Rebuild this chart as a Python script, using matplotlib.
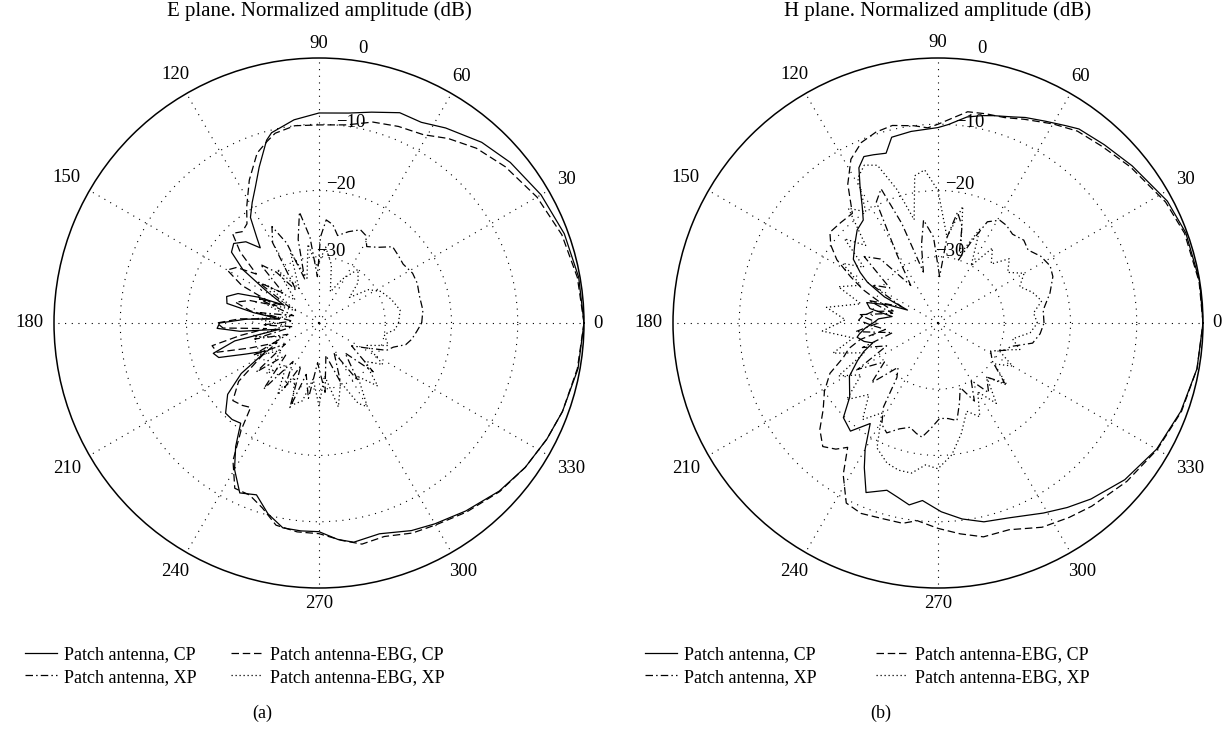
import numpy as np
import matplotlib.pyplot as plt
from matplotlib.lines import Line2D

plt.rcParams['font.family'] = ['Liberation Serif', 'DejaVu Serif']

# ---- E plane data (angle in deg, normalized amplitude in dB) ----
e_cp_patch_ang = [0, 10, 20, 30, 40, 48, 57, 63, 69, 76, 82, 90, 97, 104, 106, 111, 115, 119, 123, 126,
                  128, 132, 137, 141, 145, 149, 153, 157, 160, 164, 168, 171, 174, 177, 180, 183, 186, 189,
                  192, 196, 199, 203, 208, 213, 218, 224, 228, 232, 236, 240, 245, 250, 255, 260, 265, 270,
                  275, 279, 286, 294, 300, 308, 317, 325, 333, 340, 350, 360]
e_cp_patch = [0.0, -0.2, -0.6, -1.3, -2.3, -3.3, -4.9, -6.0, -6.0, -7.2, -8.0, -8.3, -9.1, -10.4, -11.3,
              -14.8, -17.3, -19.2, -21.0, -24.0, -25.6, -23.5, -22.4, -23.0, -26.0, -31.0, -34.0, -30.0,
              -27.0, -25.5, -25.8, -30.0, -34.0, -29.0, -25.0, -24.6, -28.0, -34.0, -27.0, -23.4, -24.0,
              -28.0, -31.0, -26.0, -22.5, -20.4, -20.4, -20.8, -17.5, -14.5, -11.7, -12.4, -10.2, -8.6,
              -8.5, -8.5, -7.2, -6.5, -6.9, -5.7, -5.0, -4.0, -2.8, -2.0, -1.4, -0.9, -0.3, 0.0]

e_cp_ebg_ang = [0, 10, 20, 30, 40, 48, 55, 61, 68, 75, 82, 90, 97, 103, 106, 110, 116, 122, 126, 130,
                134, 138, 142, 146, 150, 154, 158, 162, 166, 170, 174, 177, 180, 183, 186, 189, 192, 196,
                200, 205, 210, 216, 222, 227, 231, 234, 238, 243, 248, 253, 258, 264, 270, 276, 281, 287,
                294, 300, 308, 317, 325, 333, 340, 350, 360]
e_cp_ebg = [0.0, -0.4, -1.0, -2.0, -3.3, -4.5, -6.0, -7.5, -8.0, -8.6, -9.8, -10.1, -10.0, -10.6, -11.5,
            -12.7, -16.0, -19.4, -21.5, -22.0, -21.2, -24.0, -28.0, -25.0, -24.0, -27.0, -33.0, -29.0,
            -27.0, -29.5, -34.0, -28.0, -24.6, -25.5, -32.0, -28.0, -23.5, -24.0, -29.0, -33.0, -30.0,
            -25.0, -22.5, -23.0, -23.6, -20.0, -15.5, -12.0, -12.0, -10.8, -8.8, -8.3, -8.2, -7.0, -6.0,
            -6.3, -5.3, -4.8, -3.8, -2.7, -2.0, -1.4, -0.9, -0.4, 0.0]

e_xp_patch_ang = [0, 7, 15, 22, 28, 35, 40, 46, 52, 58, 62, 66, 72, 78, 82, 86, 89, 92, 96, 100, 104,
                  108, 112, 116, 120, 125, 130, 135, 140, 146, 152, 158, 164, 170, 176, 182, 188, 194, 200,
                  206, 212, 218, 224, 230, 236, 242, 247, 251, 256, 262, 268, 275, 282, 290, 297, 304, 311,
                  318, 325, 332, 338, 342, 346, 350, 355, 360]
e_xp_patch = [-24.5, -24.2, -24.3, -24.0, -24.0, -24.5, -24.3, -24.0, -25.5, -26.4, -25.0, -24.6, -25.5,
              -26.5, -25.0, -24.4, -27.0, -33.0, -27.0, -23.0, -27.0, -33.0, -27.0, -23.8, -26.0, -34.0,
              -30.0, -27.5, -33.0, -29.0, -35.0, -30.0, -36.0, -31.0, -36.0, -31.5, -36.0, -30.0, -35.0,
              -29.0, -34.0, -28.0, -33.0, -27.0, -33.0, -29.0, -33.0, -26.5, -32.0, -28.5, -34.0, -29.5,
              -35.0, -30.5, -35.0, -29.5, -34.0, -29.0, -34.0, -32.0, -29.0, -28.2, -26.5, -25.8, -25.2,
              -24.5]

e_xp_ebg_ang = [0, 9, 18, 27, 34, 40, 46, 54, 62, 70, 78, 85, 92, 98, 105, 112, 120, 128, 136, 144, 152,
                160, 168, 176, 184, 192, 200, 208, 216, 224, 232, 240, 246, 252, 258, 264, 270, 276, 283,
                290, 296, 300, 306, 313, 320, 327, 335, 342, 350, 355, 360]
e_xp_ebg = [-28.0, -27.6, -28.5, -29.5, -31.0, -34.0, -31.5, -30.0, -32.5, -35.0, -31.0, -28.5, -31.5,
            -28.0, -33.0, -28.5, -34.0, -30.0, -35.0, -30.5, -36.0, -31.0, -35.5, -30.5, -35.0, -30.0,
            -34.0, -29.5, -33.0, -29.0, -32.0, -27.5, -31.0, -27.0, -28.0, -31.5, -27.5, -32.0, -27.0,
            -30.5, -26.5, -25.4, -30.0, -27.0, -31.0, -28.5, -32.0, -29.0, -30.0, -28.5, -28.0]

# ---- H plane data ----
h_cp_patch_ang = [0, 9, 20, 28, 39, 47, 54, 57, 62, 67, 70, 75, 78, 82, 87, 90, 98, 104, 107, 111, 114,
                  117, 120, 123, 126, 131, 137, 143, 147, 150, 154, 157, 160, 164, 168, 172, 176, 180, 184,
                  188, 190, 194, 197, 201, 205, 211, 216, 220, 225, 231, 236, 240, 243, 247, 253, 257, 261,
                  265, 271, 277, 283, 290, 299, 305, 311, 320, 330, 340, 350, 360]
h_cp_patch = [0.0, 0.0, -0.2, -0.8, -2.3, -3.2, -3.8, -4.5, -5.5, -6.3, -6.9, -7.6, -8.0, -8.6, -10.0,
              -10.5, -10.8, -11.1, -13.2, -12.8, -12.5, -13.7, -16.5, -19.0, -20.8, -21.4, -22.8, -24.0,
              -26.0, -27.7, -31.0, -35.0, -32.0, -28.8, -29.5, -33.0, -31.0, -30.2, -29.0, -28.0, -27.6,
              -28.5, -29.7, -28.0, -26.6, -24.4, -23.5, -22.6, -19.8, -19.0, -21.7, -18.0, -15.5, -12.2,
              -13.6, -13.0, -12.2, -13.1, -11.5, -10.2, -9.2, -8.7, -7.2, -6.0, -4.8, -3.2, -1.9, -1.0,
              -0.3, 0.0]

h_cp_ebg_ang = [0, 9, 20, 28, 39, 47, 54, 60, 67, 72, 77, 82, 86, 90, 93, 97, 103, 108, 113, 118, 123,
                128, 134, 140, 144, 148, 152, 156, 160, 165, 170, 175, 178, 182, 187, 192, 196, 200, 205,
                211, 217, 222, 227, 231, 234, 238, 243, 248, 254, 260, 264, 270, 276, 282, 289, 297, 304,
                310, 320, 330, 340, 350, 360]
h_cp_ebg = [0.0, -0.1, -0.4, -1.1, -2.6, -3.6, -4.2, -5.3, -6.6, -7.4, -7.6, -7.8, -9.0, -10.0, -10.5,
            -10.0, -9.4, -9.7, -10.4, -12.0, -15.0, -19.0, -18.9, -18.7, -20.0, -22.0, -25.0, -27.6,
            -30.5, -33.0, -30.0, -28.5, -28.0, -30.0, -32.0, -28.0, -26.0, -24.8, -22.0, -20.0, -18.3,
            -16.0, -14.5, -15.5, -16.8, -13.0, -9.5, -9.0, -9.3, -9.3, -10.0, -9.0, -8.0, -7.0, -7.0,
            -5.4, -4.6, -3.9, -2.8, -1.8, -0.9, -0.3, 0.0]

h_xp_patch_ang = [0, 7, 15, 22, 27, 33, 39, 44, 50, 55, 59, 64, 68, 72, 76, 80, 84, 88, 93, 98, 102,
                  106, 110, 113, 117, 121, 126, 132, 138, 144, 150, 156, 162, 168, 174, 180, 186, 192, 198,
                  204, 210, 216, 222, 228, 233, 237, 241, 245, 250, 255, 259, 262, 266, 271, 276, 281, 285,
                  289, 295, 300, 306, 312, 318, 325, 332, 338, 342, 348, 354, 360]
h_xp_patch = [-24.0, -24.0, -22.5, -21.3, -21.0, -21.5, -22.5, -22.0, -22.5, -22.0, -21.9, -23.0, -27.0,
              -30.0, -25.0, -23.0, -27.0, -33.0, -27.0, -24.3, -28.0, -32.0, -24.0, -18.0, -19.5, -28.0,
              -33.0, -27.0, -25.0, -31.0, -28.5, -34.0, -29.0, -33.0, -28.0, -31.0, -27.5, -33.0, -28.0,
              -31.5, -26.0, -30.0, -26.5, -31.0, -29.7, -24.9, -22.5, -21.7, -23.0, -23.7, -23.0, -22.6,
              -24.0, -25.6, -25.5, -25.0, -27.5, -29.7, -27.0, -30.0, -27.0, -29.0, -26.5, -30.0, -31.0,
              -29.0, -28.5, -25.4, -24.5, -24.0]

h_xp_ebg_ang = [0, 6, 12, 18, 24, 30, 36, 42, 48, 54, 60, 66, 72, 78, 84, 90, 95, 99, 103, 107, 111, 115,
                119, 123, 128, 133, 138, 143, 148, 154, 160, 166, 172, 178, 184, 190, 196, 202, 208, 214,
                220, 226, 232, 238, 244, 250, 255, 260, 265, 270, 276, 282, 288, 294, 300, 306, 312, 318,
                324, 330, 336, 342, 348, 354, 360]
h_xp_ebg = [-25.0, -25.5, -24.0, -25.0, -26.5, -25.0, -27.0, -25.5, -28.0, -26.0, -30.0, -24.5, -29.0,
            -22.0, -27.0, -20.0, -16.8, -17.5, -24.0, -19.0, -14.5, -13.7, -15.0, -20.0, -18.0, -24.0,
            -21.0, -26.0, -23.0, -27.0, -24.0, -28.0, -23.0, -26.0, -22.5, -27.0, -23.5, -28.0, -23.0,
            -26.0, -22.0, -25.0, -21.5, -24.0, -19.0, -17.5, -17.0, -17.0, -18.5, -18.0, -20.0, -23.0,
            -26.0, -24.5, -28.0, -25.0, -29.0, -26.0, -29.5, -27.0, -30.0, -27.0, -28.5, -26.0, -25.0]

theta_ticks = list(range(0, 360, 30))
ring_values = [-30, -20, -10, 0]
ring_labels = ['\u221230', '\u221220', '\u221210', '0']

labels = ['Patch antenna, CP', 'Patch antenna, XP',
          'Patch antenna-EBG, CP', 'Patch antenna-EBG, XP']
styles = ['-', (0, (6, 2.5, 1.2, 2.5)), (0, (6, 3)), (0, (1, 2.2))]

W, H = 1231, 742
R = 265          # radius of the polar frame in pixels
PX2DB = 40 / R   # dB per pixel along the radius
fig = plt.figure(figsize=(W / 100, H / 100), dpi=100)


def panel(cx, title, tag, series, leg_x, colspace):
    cy = 323
    ax = fig.add_axes([(cx - R) / W, (H - cy - R) / H, 2 * R / W, 2 * R / H], projection='polar')
    for (ang, val), ls in zip(series, styles):
        ax.plot(np.deg2rad(ang), val, color='black', linestyle=ls, linewidth=0.9)
    ax.set_ylim(-40, 0)
    ax.set_rgrids(ring_values[:-1], labels=['', '', ''])
    ax.set_thetagrids(theta_ticks, labels=['' for t in theta_ticks])
    ax.grid(True, color='black', linestyle=(0, (1, 5)), linewidth=0.8)
    ax.spines['polar'].set_linewidth(1.1)

    # angle labels outside the frame
    for t in theta_ticks:
        th = np.deg2rad(t)
        half_w = len(str(t)) * 5.6
        gap = 8 + abs(np.cos(th)) * half_w + abs(np.sin(th)) * 7
        ax.text(th, gap * PX2DB, str(t), fontsize=13.5, ha='center', va='center', clip_on=False)

    # ring labels
    for v, s, off in zip(ring_values, ring_labels, [1.0, 1.1, 0.7, 2.0]):
        ax.text(np.deg2rad(81), v + off, s, fontsize=13.5, ha='center', va='center', clip_on=False)

    fig.text(cx / W, 1 - 11 / H, title, fontsize=15, ha='center', va='center')
    handles = [Line2D([], [], color='black', linestyle=ls, linewidth=0.9) for ls in styles]
    fig.legend(handles, labels, loc='upper left', bbox_to_anchor=(leg_x / W, 1 - 646 / H),
               ncol=2, frameon=False, fontsize=13, handlelength=1.75, handletextpad=0.4,
               columnspacing=colspace, labelspacing=0.32, borderpad=0, borderaxespad=0)
    fig.text((cx - 57) / W, 1 - 713 / H, tag, fontsize=13, ha='center', va='center')


panel(319, 'E plane. Normalized amplitude (dB)', '(a)',
      [(e_cp_patch_ang, e_cp_patch), (e_xp_patch_ang, e_xp_patch),
       (e_cp_ebg_ang, e_cp_ebg), (e_xp_ebg_ang, e_xp_ebg)], 25, 1.9)
panel(938, 'H plane. Normalized amplitude (dB)', '(b)',
      [(h_cp_patch_ang, h_cp_patch), (h_xp_patch_ang, h_xp_patch),
       (h_cp_ebg_ang, h_cp_ebg), (h_xp_ebg_ang, h_xp_ebg)], 645, 3.3)

fig.savefig('out.png', dpi=100)
